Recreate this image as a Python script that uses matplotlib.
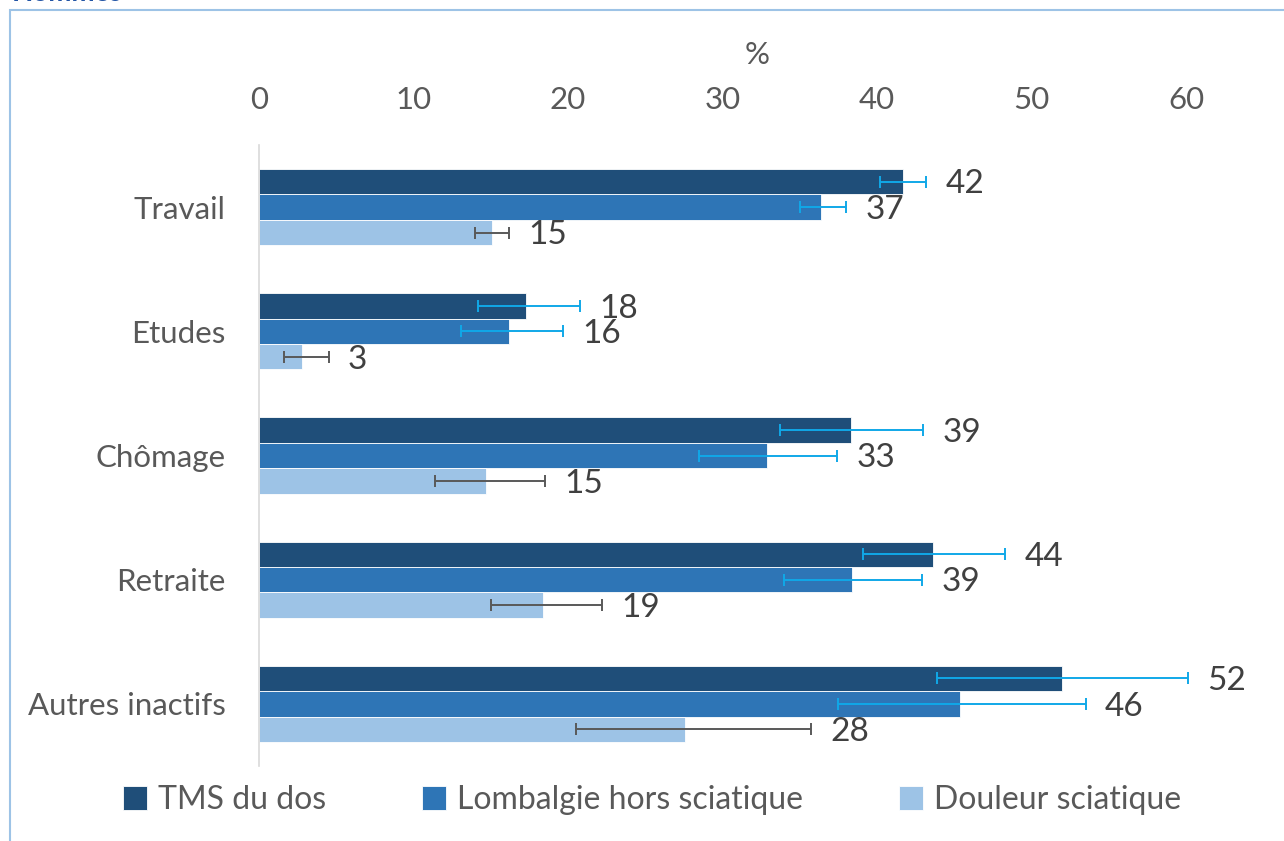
import matplotlib
matplotlib.use("Agg")
import matplotlib.pyplot as plt
from matplotlib.patches import Rectangle
import numpy as np

plt.rcParams['font.family'] = ['Lato', 'DejaVu Sans']

categories = ["Travail", "Etudes", "Chômage", "Retraite", "Autres inactifs"]
series = ["TMS du dos", "Lombalgie hors sciatique", "Douleur sciatique"]
tms = [41.7, 17.3, 38.3, 43.6, 52.0]
lomb = [36.4, 16.2, 32.9, 38.4, 45.4]
sciat = [15.1, 2.8, 14.7, 18.4, 27.6]
tms_lo = [40.2, 14.2, 33.7, 39.1, 43.9]
tms_hi = [43.2, 20.8, 43.0, 48.3, 60.1]
lomb_lo = [35.0, 13.1, 28.5, 34.0, 37.5]
lomb_hi = [38.0, 19.7, 37.4, 42.9, 53.5]
sciat_lo = [14.0, 1.6, 11.4, 15.0, 20.5]
sciat_hi = [16.2, 4.5, 18.5, 22.2, 35.7]
labels_tms = ["42", "18", "39", "44", "52"]
labels_lomb = ["37", "16", "33", "39", "46"]
labels_sciat = ["15", "3", "15", "19", "28"]
xticks = [0, 10, 20, 30, 40, 50, 60]

colors = ["#1F4E79", "#2E75B6", "#9DC3E6"]
err_colors = ["#10A8E8", "#10A8E8", "#595959"]

W, H = 1284, 841
fig = plt.figure(figsize=(W / 100, H / 100), dpi=100)
fig.patch.set_facecolor("white")

ax = fig.add_axes([259 / W, 1 - 766 / H, (1186 - 259) / W, (766 - 145) / H])

n = len(categories)
y = np.arange(n)
bw = 0.205
data = [(tms, tms_lo, tms_hi, labels_tms),
        (lomb, lomb_lo, lomb_hi, labels_lomb),
        (sciat, sciat_lo, sciat_hi, labels_sciat)]
for i, (vals, lo, hi, labs) in enumerate(data):
    pos = y + (i - 1) * bw
    ax.barh(pos, vals, height=bw, color=colors[i], edgecolor="white", linewidth=0.6, label=series[i], zorder=2)
    v = np.array(vals)
    xerr = [v - np.array(lo), np.array(hi) - v]
    eb = ax.errorbar(vals, pos, xerr=xerr, fmt="none", ecolor=err_colors[i], elinewidth=1.4,
                     capsize=4, capthick=1.4, zorder=3)
    for art in eb.lines[1] + eb.lines[2]:
        art.set_clip_on(False)
    for p, h, t in zip(pos, hi, labs):
        ax.annotate(t, (h, p), xytext=(14, -2), textcoords="offset points",
                    ha="left", va="center", fontsize=24, color="#404040",
                    annotation_clip=False)

ax.set_xlim(0, 60)
ax.set_ylim(n - 0.5, -0.5)
ax.set_yticks(y)
ax.set_yticklabels(categories, fontsize=22.5, color="#595959")
ax.set_xticks(xticks)
ax.set_xticklabels([str(t) for t in xticks], fontsize=22.5, color="#595959")
ax.xaxis.tick_top()
ax.tick_params(axis="x", length=0, pad=22)
ax.tick_params(axis="y", length=0, pad=24)
for s in ["top", "right", "bottom"]:
    ax.spines[s].set_visible(False)
ax.spines["left"].set_color("#D9D9D9")
ax.spines["left"].set_linewidth(1.2)
ax.set_facecolor("none")

fig.text(757 / W, 1 - 55 / H, "%", ha="center", va="center", fontsize=22.5, color="#595959")

handles, labs = ax.get_legend_handles_labels()
leg = fig.legend(handles, labs, loc="center", bbox_to_anchor=(652 / W, 1 - 800 / H), ncol=3,
                 frameon=False, fontsize=23, handlelength=0.75, handleheight=0.75,
                 handletextpad=0.35, columnspacing=3.0, labelcolor="#595959")

# frame
fig.patches.append(Rectangle((10 / W, -0.1), 1.2, 1 - 10 / H + 0.1, transform=fig.transFigure,
                             fill=False, edgecolor="#9DC3E6", linewidth=1.5))
fig.text(12 / W, 1 - 6 / H, "Hommes", ha="left", va="bottom", fontsize=20, fontweight="bold",
         color="#2355A5")

fig.savefig("out.png", dpi=100)
